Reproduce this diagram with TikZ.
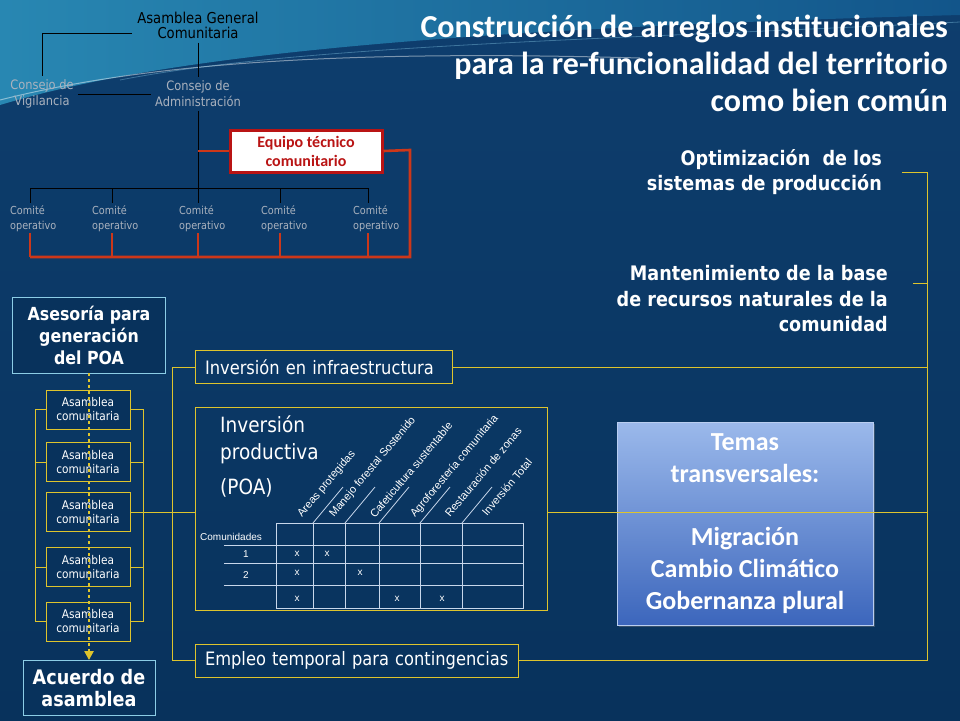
\documentclass[tikz,border=0pt]{standalone}
\usepackage{fontspec}
\setmainfont{Carlito}
\newfontfamily\tahoma[FakeStretch=0.88]{DejaVu Sans}
\newfontfamily\arialf{Liberation Sans}
\usetikzlibrary{arrows.meta,shadows}
\definecolor{bgtop}{RGB}{14,62,110}
\definecolor{bgbot}{RGB}{8,50,92}
\definecolor{swL}{RGB}{40,135,178}
\definecolor{swR}{RGB}{18,85,138}
\definecolor{lineyel}{RGB}{222,196,45}
\definecolor{boxcyan}{RGB}{140,205,230}
\definecolor{redl}{RGB}{205,55,25}
\definecolor{eqred}{RGB}{185,20,20}
\definecolor{orggray}{RGB}{170,178,190}
\definecolor{tblcol}{RGB}{200,215,235}
\definecolor{tmtop}{RGB}{155,185,235}
\definecolor{tmbot}{RGB}{60,102,188}
\newcommand\fsz[2]{\fontsize{#1}{#2}\selectfont}

\begin{document}
\begin{tikzpicture}[x=1pt,y=-1pt,
  orgline/.style={black,line width=.9},
  redline/.style={redl,line width=2.6},
  yl/.style={lineyel,line width=.9},
  orgtop/.style={align=center,inner sep=4pt,text=black,font=\tahoma\fsz{15}{15}},
  orgtxt/.style={align=center,inner sep=4pt,text=orggray,font=\tahoma\fsz{13}{16}},
  comtxt/.style={align=left,inner sep=2pt,text=orggray,font=\tahoma\fsz{11}{15}},
  eqbox/.style={draw=eqred,line width=3,fill=white,text=eqred,align=center,
    minimum width=152,minimum height=42,inner sep=0,font=\bfseries\fsz{16}{19},
    drop shadow={opacity=.4}},
  cybox/.style={draw=boxcyan,line width=.9,fill=bgbot,text=white,align=center,inner sep=0},
  asbox/.style={draw=lineyel,line width=.9,fill=bgbot,text=white,align=center,inner sep=0,
    minimum width=84,minimum height=39,font=\tahoma\fsz{12}{14}},
  ylbox/.style={draw=lineyel,line width=.9,text=white,align=left,inner sep=0,inner xsep=10},
  rtxt/.style={align=right,text=white,inner sep=0,font=\tahoma\bfseries\fsz{20}{25.5}},
  tema/.style={draw=tmtop!70!white,line width=1,top color=tmtop,bottom color=tmbot,
    minimum width=256,minimum height=203,align=center,text=white,inner sep=0,
    font=\bfseries\fsz{26}{31.8},drop shadow={opacity=.4}},
  tbl/.style={tblcol,line width=.8},
  tbltxt/.style={text=white,inner sep=0,font=\arialf\fsz{10}{12}},
  dotarrow/.style={lineyel,line width=2.6,dash pattern=on 2.6pt off 3.4pt,-{Triangle[length=9pt,width=9pt]}}]
\useasboundingbox (0,0) rectangle (960,720);
\shade[top color=bgtop,bottom color=bgbot] (0,0) rectangle (960,720);
\shade[left color=swL,right color=swR] (0,0) -- (960,0) -- (960,15) .. controls (400,30) and (150,60) .. (0,105) -- cycle;
\draw[white,opacity=.45,line width=1] (0,100) .. controls (150,62) and (350,50) .. (640,58);
\draw[cyan!40,opacity=.35,line width=.8] (120,80) .. controls (300,45) and (600,40) .. (960,22);

% title
\node[anchor=east,align=right,text=white,inner sep=0,font=\bfseries\fsz{32}{37}] (ttl) at (948,63)
  {Construcción de arreglos institucionales\\para la re-funcionalidad del territorio\\como bien común};

% organigrama
\node[orgtop] (agc) at (198,25) {Asamblea General\\Comunitaria};
\node[orgtxt] (cv) at (42,94) {Consejo de\\Vigilancia};
\node[orgtxt] (ca) at (198,94) {Consejo de\\Administración};
\node[eqbox] (eq) at (306,151) {Equipo técnico\\comunitario};
\coordinate (agcL) at (132,33);
\coordinate (rc) at (410,150);
\coordinate (rb) at (30,257);
\draw[orgline] (agcL) -| (cv);
\draw[orgline] (agc) -- (ca);
\draw[orgline] (cv) -- (ca);
\foreach \i/\x/\l in {1/30/10,2/112/92,3/198/179,4/280/261,5/368/353}{
  \coordinate (t\i) at (\x,188);
  \node[comtxt,anchor=north west] (co\i) at (\l-2,203) {Comité\\operativo};
  \draw[orgline] (t\i) -- (t\i |- co\i.north);
  \draw[redline] (t\i |- co\i.south) -- (t\i |- rb);
}
\draw[orgline] (t1) -- (t5);
\draw[orgline] (ca) -- (t3);
\draw[redline] (ca.south |- eq.west) -- (eq.west);
\draw[redline] (eq.east) -- (rc) |- (rb);

% columna izquierda
\node[cybox,minimum width=153,minimum height=76,font=\tahoma\bfseries\fsz{18}{22}] (ases) at (89,335)
  {Asesoría para\\generación\\del POA};
\foreach \i/\y in {1/409.5,2/462,3/512,4/567,5/621.5}
  \node[asbox] (as\i) at (88,\y) {Asamblea\\comunitaria};
\node[cybox,minimum width=132,minimum height=55,font=\tahoma\bfseries\fsz{20}{22}] (acu) at (89,688)
  {Acuerdo de\\asamblea};
\coordinate (lb) at (35,0);
\coordinate (rbk) at (143,0);
\draw[yl] (as1.west) -| (lb |- as5.west) -- (as5.west);
\draw[yl] (as1.east) -| (rbk |- as5.east) -- (as5.east);
\foreach \i in {2,4}{
  \draw[yl] (as\i.west) -- (lb |- as\i.west);
  \draw[yl] (as\i.east) -- (rbk |- as\i.east);
}
\draw[dotarrow] (ases.south) -- (acu.north);

% inversiones
\node[ylbox,minimum width=257,minimum height=33,text width=237,font=\tahoma\fsz{18.5}{22}] (inf) at (323.5,367)
  {\mbox{Inversión en infraestructura}};
\node[ylbox,minimum width=352,minimum height=203] (ip) at (371,508.5) {};
\node[anchor=north west,align=left,text=white,inner sep=0,font=\tahoma\fsz{21}{27}] (iplab) at (220,415)
  {Inversión\\productiva\\[8pt](POA)};
\node[ylbox,minimum width=323,minimum height=33,text width=303,font=\tahoma\fsz{18.5}{22}] (emp) at (356.5,660.5)
  {\mbox{Empleo temporal para contingencias}};
\coordinate (bus) at (172,0);
\draw[yl] (inf.west) -| (bus |- emp.west) -- (emp.west);
\draw[yl] (as3.east) -- (ip.west |- as3.east);

% tabla POA
\draw[tbl] (276,523) rectangle (523,608);
\foreach \x in {313,345,379,420,462}{
  \draw[tbl] (\x,523) -- (\x,608);
  \draw[tbl] (\x,523) -- ++(30,-36);
}
\foreach \y in {545,563,585}
  \draw[tbl] (224,\y) -- (523,\y);
\foreach \i/\x/\y/\t in {1/302/518/Areas protegidas,2/334/518/Manejo forestal Sostenido,
    3/375/519/Cafeticultura sustentable,4/415/518/Agroforestería comunitaria,
    5/450/518/Restauración de zonas,6/487/517/Inversión Total}
  \node[tbltxt,anchor=base west,rotate=50,font=\arialf\fsz{11}{12}] (col\i) at (\x,\y) {\t};
\node[tbltxt,anchor=west] (comu) at (200,537) {Comunidades};
\node[tbltxt] (r1) at (246,554) {1};
\node[tbltxt] (r2) at (246,575) {2};
\foreach \i/\x/\y in {1/297/554,2/327/554,3/297/573,4/360/573,5/297/599,6/397/599,7/442/599}
  \node[tbltxt] (xm\i) at (\x,\y) {x};

% lado derecho
\node[rtxt,anchor=east] (opt) at (882,172) {Optimización\ \ de los\\sistemas de producción};
\node[rtxt,anchor=east] (man) at (888,299) {Mantenimiento de la base\\de recursos naturales de la\\comunidad};
\node[tema] (tm) at (745,523.5) {Temas\\transversales:\\[31.8pt]Migración\\Cambio Climático\\Gobernanza plural};
\coordinate (optT) at (902,172);
\coordinate (manT) at (913,283);
\coordinate (rbus) at (927,0);
\draw[yl] (optT) -| (rbus |- emp.east) -- (emp.east);
\draw[yl] (manT) -- (rbus |- manT);
\draw[yl] (inf.east) -- (rbus |- inf.east);
\draw[yl] (ip.east |- as3.east) -- (rbus |- as3.east);
\end{tikzpicture}
\end{document}
